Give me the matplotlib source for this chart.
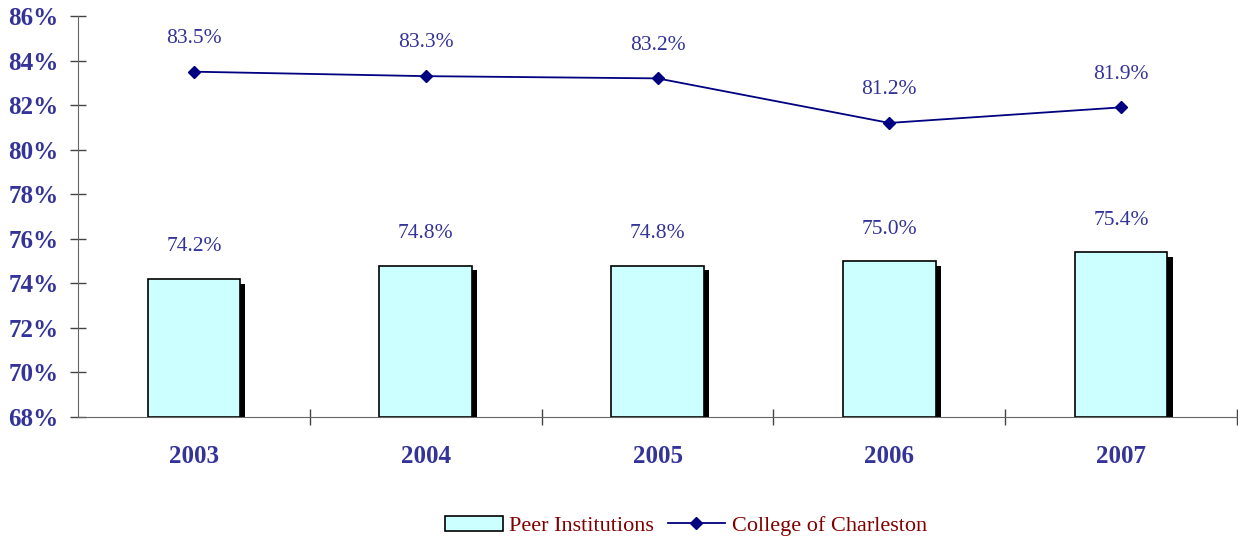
import matplotlib.pyplot as plt
from matplotlib.patches import Rectangle
from matplotlib.lines import Line2D

years = ["2003", "2004", "2005", "2006", "2007"]
peer = [74.2, 74.8, 74.8, 75.0, 75.4]
cofc = [83.5, 83.3, 83.2, 81.2, 81.9]

plt.rcParams["font.family"] = ["Liberation Serif", "DejaVu Serif"]
label_color = "#333399"

fig = plt.figure(figsize=(12.38, 5.42), dpi=100)
ax = fig.add_axes([78 / 1238, 1 - 417 / 542, 1159 / 1238, 401 / 542])

x = range(len(years))
w = 0.4
# shadow behind bars
ax.bar([i + 0.022 for i in x], [v - 68 - 0.22 for v in peer], w, bottom=68,
       color="black", zorder=1)
ax.bar(x, [v - 68 for v in peer], w, bottom=68, color="#CCFFFF",
       edgecolor="black", linewidth=1.2, zorder=2)
ax.plot(x, cofc, color="#000080", marker="D", markersize=6, linewidth=1.3, zorder=3)

for i, v in enumerate(peer):
    ax.annotate(f"{v:.1f}%", (i, v), xytext=(0, 23), textcoords="offset points",
                ha="center", va="center", fontsize=15.5, color=label_color)
for i, v in enumerate(cofc):
    ax.annotate(f"{v:.1f}%", (i, v), xytext=(0, 24), textcoords="offset points",
                ha="center", va="center", fontsize=15.5, color=label_color)

ax.set_xlim(-0.5, 4.5)
ax.set_ylim(68, 86)
ax.set_yticks(range(68, 87, 2))
ax.set_yticklabels([f"{t}%" for t in range(68, 87, 2)], fontsize=18,
                   fontweight="bold", color=label_color)
ax.set_xticks([0.5, 1.5, 2.5, 3.5, 4.5])
ax.set_xticklabels([])
ax.set_xticks(list(x), minor=True)
ax.set_xticklabels(years, minor=True, fontsize=18, fontweight="bold",
                   color=label_color)
ax.tick_params(axis="x", which="minor", length=0, pad=20)
ax.tick_params(axis="both", which="major", direction="inout", length=12,
               color="#444444", width=1)
ax.tick_params(axis="y", pad=8)
for s in ["top", "right"]:
    ax.spines[s].set_visible(False)
for s in ["left", "bottom"]:
    ax.spines[s].set_color("#666666")

handles = [Rectangle((0, 0), 1, 1, facecolor="#CCFFFF", edgecolor="black", linewidth=1.2),
           Line2D([], [], color="#000080", marker="D", markersize=6, linewidth=1.3)]
leg = fig.legend(handles, ["Peer Institutions", "College of Charleston"],
                 loc="center", bbox_to_anchor=(686 / 1238, 1 - 526 / 542), ncol=2,
                 frameon=False, fontsize=16, handlelength=2.6, columnspacing=0.6,
                 handletextpad=0.3)
for t in leg.get_texts():
    t.set_color("#800000")

fig.savefig("out.png", dpi=100)
